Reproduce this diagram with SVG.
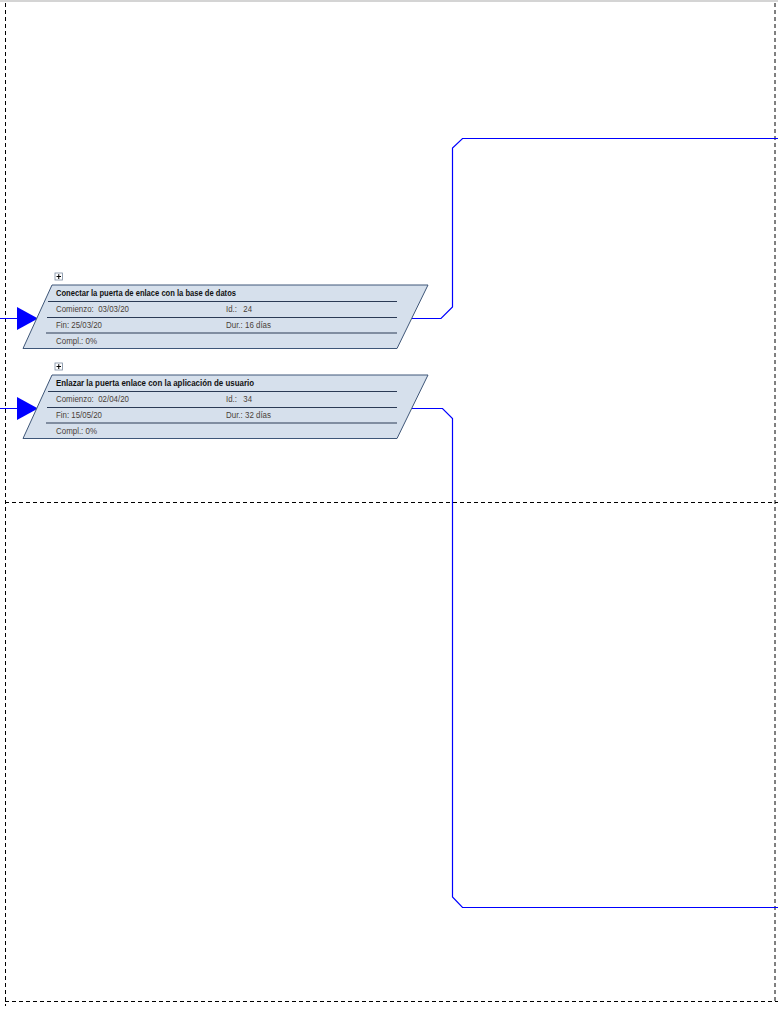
<svg xmlns="http://www.w3.org/2000/svg" width="778" height="1009" viewBox="0 0 778 1009">
  <style>
    .page { stroke: #000; stroke-width: 1; stroke-dasharray: 4 3; fill: none; }
    .task { fill: #d6e0ec; stroke: #3e5678; stroke-width: 1; }
    .sep { stroke: #2a3a55; stroke-width: 1; }
    .title { font-family: "Liberation Sans", Arial, sans-serif; font-size: 8.5px; font-weight: bold; fill: #111; }
    .field { font-family: "Liberation Sans", Arial, sans-serif; font-size: 8.5px; fill: #4a4038; }
    .link { stroke: #0000ff; stroke-width: 1.2; fill: none; }
    .expand { fill: #fff; stroke: #7a8aa0; stroke-width: 0.8; }
    .plus { stroke: #000; stroke-width: 1; }
  </style>
  <defs>
    <marker id="arrow" markerWidth="22" markerHeight="23" refX="21" refY="11.5" orient="auto" markerUnits="userSpaceOnUse">
      <path d="M0,0 L21,11.5 L0,23 Z" fill="#0000ff"/>
    </marker>
  </defs>
  <rect width="778" height="1009" fill="#fff"/>
  <line x1="0" y1="1" x2="778" y2="1" stroke="#d4d4d4" stroke-width="2"/>

  <!-- page boundaries -->
  <g id="pages">
    <line class="page" x1="5.5" y1="3" x2="5.5" y2="1006"/>
    <line class="page" x1="775" y1="3" x2="775" y2="1004"/>
    <line class="page" x1="5" y1="502.5" x2="778" y2="502.5"/>
    <line class="page" x1="5" y1="1001.5" x2="778" y2="1001.5"/>
  </g>

  <!-- connectors -->
  <g id="connectors">
    <line class="link" x1="0" y1="318.5" x2="38" y2="318.5" marker-end="url(#arrow)"/>
    <line class="link" x1="0" y1="408.5" x2="38" y2="408.5" marker-end="url(#arrow)"/>
    <polyline class="link" points="412,318.5 441,318.5 452.5,307 452.5,148 462.5,138.5 778,138.5"/>
    <polyline class="link" points="412,408.5 442.5,408.5 452.5,418.5 452.5,897 462.5,907.5 778,907.5"/>
  </g>

  <!-- task 24 -->
  <g id="task24">
    <rect class="expand" x="55" y="273" width="7.5" height="7"/>
    <line class="plus" x1="56.5" y1="276.5" x2="61" y2="276.5"/>
    <line class="plus" x1="58.75" y1="274.2" x2="58.75" y2="279"/>
    <polygon class="task" points="52,285 428,285 397,348.5 23,348.5"/>
    <line class="sep" x1="48" y1="301.5" x2="397" y2="301.5"/>
    <line class="sep" x1="47" y1="317.5" x2="397" y2="317.5"/>
    <line class="sep" x1="46" y1="333" x2="397" y2="333"/>
    <text class="title" x="56" y="296" textLength="180" lengthAdjust="spacingAndGlyphs">Conectar la puerta de enlace con la base de datos</text>
    <text class="field" x="56" y="312" textLength="73" lengthAdjust="spacingAndGlyphs" xml:space="preserve">Comienzo:  03/03/20</text>
    <text class="field" x="226" y="312" textLength="26" lengthAdjust="spacingAndGlyphs" xml:space="preserve">Id.:   24</text>
    <text class="field" x="56" y="328" textLength="46" lengthAdjust="spacingAndGlyphs">Fin: 25/03/20</text>
    <text class="field" x="226" y="328" textLength="45" lengthAdjust="spacingAndGlyphs">Dur.: 16 días</text>
    <text class="field" x="56" y="344" textLength="41" lengthAdjust="spacingAndGlyphs">Compl.: 0%</text>
  </g>

  <!-- task 34 -->
  <g id="task34">
    <rect class="expand" x="55" y="363" width="7.5" height="7"/>
    <line class="plus" x1="56.5" y1="366.5" x2="61" y2="366.5"/>
    <line class="plus" x1="58.75" y1="364.2" x2="58.75" y2="369"/>
    <polygon class="task" points="52,375 428,375 397,438.5 23,438.5"/>
    <line class="sep" x1="48" y1="391.5" x2="397" y2="391.5"/>
    <line class="sep" x1="47" y1="407.5" x2="397" y2="407.5"/>
    <line class="sep" x1="46" y1="423" x2="397" y2="423"/>
    <text class="title" x="56" y="386" textLength="198" lengthAdjust="spacingAndGlyphs">Enlazar la puerta enlace con la aplicación de usuario</text>
    <text class="field" x="56" y="402" textLength="73" lengthAdjust="spacingAndGlyphs" xml:space="preserve">Comienzo:  02/04/20</text>
    <text class="field" x="226" y="402" textLength="26" lengthAdjust="spacingAndGlyphs" xml:space="preserve">Id.:   34</text>
    <text class="field" x="56" y="418" textLength="46" lengthAdjust="spacingAndGlyphs">Fin: 15/05/20</text>
    <text class="field" x="226" y="418" textLength="45" lengthAdjust="spacingAndGlyphs">Dur.: 32 días</text>
    <text class="field" x="56" y="434" textLength="41" lengthAdjust="spacingAndGlyphs">Compl.: 0%</text>
  </g>
</svg>
